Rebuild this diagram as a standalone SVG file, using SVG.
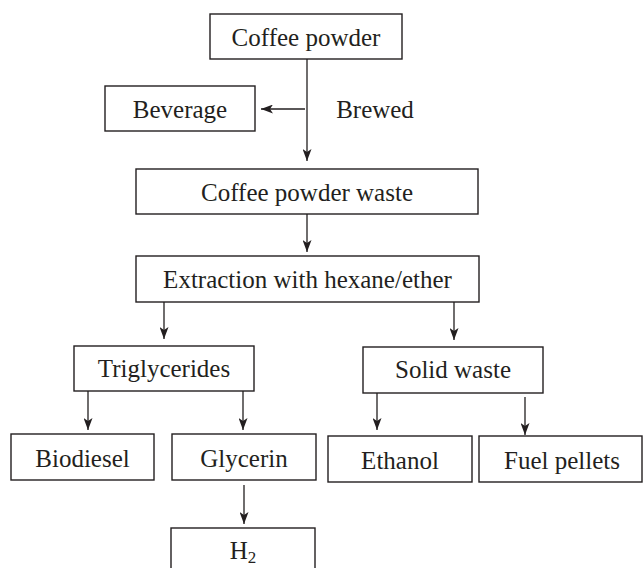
<svg xmlns="http://www.w3.org/2000/svg" width="643" height="568" viewBox="0 0 643 568">
<style>
rect.box { fill: #ffffff; stroke: #231f20; stroke-width: 1.4; }
text { font-family: "Liberation Serif", "Times New Roman", serif; font-size: 25px; fill: #231f20; text-anchor: middle; }
.conn line { stroke: #231f20; stroke-width: 1.3; marker-end: url(#arrow); }
</style>
<defs>
<marker id="arrow" viewBox="0 0 12 9" refX="12" refY="4.5" markerWidth="12" markerHeight="9" markerUnits="userSpaceOnUse" orient="auto">
<path d="M0,0 L12,4.5 L0,9 L3,4.5 z" fill="#231f20"/>
</marker>
</defs>
<rect width="643" height="568" fill="#ffffff"/>
<g id="coffee-powder"><rect class="box" x="210" y="14" width="192" height="45"/><text x="306" y="46">Coffee powder</text></g>
<g id="beverage"><rect class="box" x="105" y="86" width="150" height="45"/><text x="180" y="118">Beverage</text></g>
<g id="brewed-label"><text x="375" y="118">Brewed</text></g>
<g id="coffee-powder-waste"><rect class="box" x="136" y="169" width="342" height="45"/><text x="307" y="201">Coffee powder waste</text></g>
<g id="extraction"><rect class="box" x="136" y="256" width="343" height="46"/><text x="307.5" y="288">Extraction with hexane/ether</text></g>
<g id="triglycerides"><rect class="box" x="74" y="346" width="180" height="45"/><text x="164" y="377">Triglycerides</text></g>
<g id="solid-waste"><rect class="box" x="363" y="347" width="180" height="46"/><text x="453" y="378">Solid waste</text></g>
<g id="biodiesel"><rect class="box" x="11" y="434" width="143" height="46"/><text x="82.5" y="467">Biodiesel</text></g>
<g id="glycerin"><rect class="box" x="172" y="434" width="144" height="46"/><text x="244" y="467">Glycerin</text></g>
<g id="ethanol"><rect class="box" x="328" y="436" width="144" height="46"/><text x="400" y="469">Ethanol</text></g>
<g id="fuel-pellets"><rect class="box" x="479" y="436" width="163" height="46"/><text x="562" y="469">Fuel pellets</text></g>
<g id="h2"><rect class="box" x="171" y="528" width="144" height="50"/><text x="243" y="559">H<tspan font-size="17" dy="4">2</tspan></text></g>
<g id="connectors" class="conn">
<line x1="307" y1="59" x2="307" y2="161"/>
<line x1="305" y1="109" x2="261" y2="109"/>
<line x1="307" y1="214" x2="307" y2="252"/>
<line x1="164" y1="302" x2="164" y2="339"/>
<line x1="454" y1="302" x2="454" y2="340"/>
<line x1="88" y1="391" x2="88" y2="430"/>
<line x1="243" y1="391" x2="243" y2="430"/>
<line x1="377" y1="393" x2="377" y2="430"/>
<line x1="525" y1="397" x2="525" y2="435"/>
<line x1="244" y1="485" x2="244" y2="524"/>
</g>
</svg>
